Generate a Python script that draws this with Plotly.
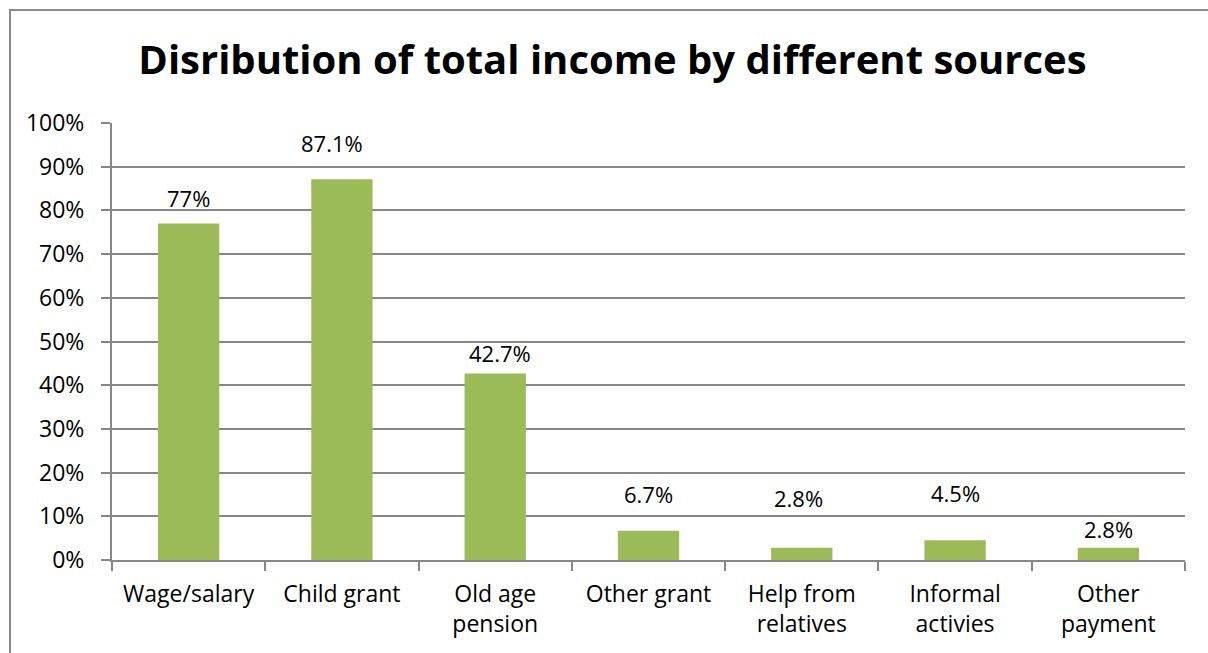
import plotly.graph_objects as go

# Income sources and the share of households receiving each
categories = ["Wage/salary", "Child grant", "Old age<br>pension", "Other grant",
              "Help from<br>relatives", "Informal<br>activies", "Other<br>payment"]
shares = [0.77, 0.871, 0.427, 0.067, 0.028, 0.045, 0.028]
value_labels = ["77%", "87.1%", "42.7%", "6.7%", "2.8%", "4.5%", "2.8%"]
y_ticks = [0, 0.1, 0.2, 0.3, 0.4, 0.5, 0.6, 0.7, 0.8, 0.9, 1.0]

# hand-placed data-label offsets (pixels from the bar top / bar centre)
label_dy = [26, 36, 20, 37, 50, 47, 19]
label_dx = [0, -10, 5, 0, -3, 0, 0]

FONT = "Open Sans"
GRID = "#868686"
BAR = "#9BBB59"

W, H = 1208, 653
ML, MR, MT, MB = 112, 23, 123, 93
pw, ph = W - ML - MR, H - MT - MB

fig = go.Figure()
fig.add_trace(go.Bar(
    x=categories, y=shares,
    marker=dict(color=BAR, line=dict(width=0)),
    hoverinfo="skip",
))

for c, v, t, dy, dx in zip(categories, shares, value_labels, label_dy, label_dx):
    fig.add_annotation(x=c, y=v, text=t, showarrow=False,
                       yanchor="middle", yshift=dy, xshift=dx,
                       font=dict(family=FONT, size=22, color="#000000"))

# outer chart frame: only its top and left edges fall inside the page
fx0 = (10 - ML) / pw
fx1 = (W + 40 - ML) / pw
fy_top = (H - MB - 10) / ph
fy_bot = -(H + 40 - MT - ph) / ph
fig.add_shape(type="path", xref="paper", yref="paper",
              path=f"M {fx1} {fy_top} L {fx0} {fy_top} L {fx0} {fy_bot}",
              line=dict(color="#8a8a8a", width=2), layer="below")

fig.update_layout(
    width=W, height=H,
    margin=dict(l=ML, r=MR, t=MT, b=MB),
    paper_bgcolor="white", plot_bgcolor="white",
    bargap=0.6,
    showlegend=False,
    title=dict(text="<b>Disribution of total income by different sources</b>",
               x=0.507, xanchor="center", y=1 - 60 / H, yanchor="middle",
               font=dict(family=FONT, size=40, color="#000000")),
    font=dict(family=FONT, size=22, color="#000000"),
)
fig.update_xaxes(
    type="category", tickson="boundaries",
    showline=True, linecolor=GRID, linewidth=2,
    ticks="outside", ticklen=9, tickcolor=GRID, tickwidth=2,
    showgrid=False, tickfont=dict(family=FONT, size=23),
    ticklabelstandoff=12,
)
fig.update_yaxes(
    range=[0, 1], tickvals=y_ticks, tickformat=".0%",
    showline=True, linecolor=GRID, linewidth=2,
    ticks="outside", ticklen=9, tickcolor=GRID, tickwidth=2,
    showgrid=True, gridcolor=GRID, gridwidth=1.5,
    zeroline=False, tickfont=dict(family=FONT, size=23),
    ticklabelstandoff=12,
)

fig.write_html("out.html")
